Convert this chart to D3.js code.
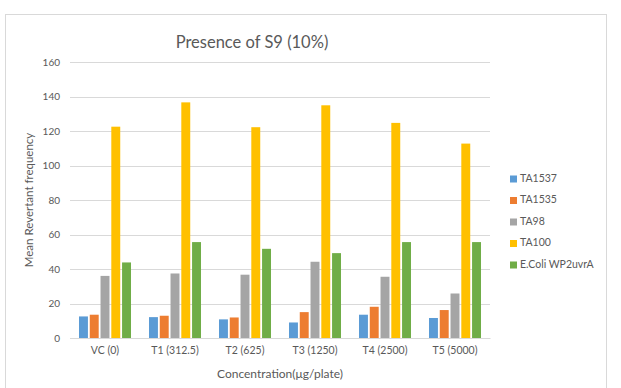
<!DOCTYPE html>
<html>
<head>
<meta charset="utf-8">
<script src="https://cdn.jsdelivr.net/npm/d3@7"></script>
<style>
  body { margin: 0; background: #fff; }
  svg text { font-family: Lato, "Open Sans", sans-serif; fill: #595959; }
</style>
</head>
<body>
<svg id="chart" width="621" height="388"></svg>
<script>
// data
const categories = ['VC (0)', 'T1 (312.5)', 'T2 (625)', 'T3 (1250)', 'T4 (2500)', 'T5 (5000)'];
const seriesNames = ['TA1537', 'TA1535', 'TA98', 'TA100', 'E.Coli WP2uvrA'];
const ta1537 = [12.5, 12.1, 10.8, 9.0, 13.5, 11.6];
const ta1535 = [13.5, 12.9, 11.9, 15.0, 18.1, 16.2];
const ta98 = [36.0, 37.4, 36.7, 44.2, 35.5, 25.8];
const ta100 = [122.5, 136.6, 122.2, 134.9, 124.7, 112.7];
const ecoli = [43.8, 55.6, 51.7, 49.2, 55.6, 55.6];
const yTicks = [0, 20, 40, 60, 80, 100, 120, 140, 160];
const colors = ['#5B9BD5', '#ED7D31', '#A5A5A5', '#FFC000', '#70AD47'];

const allSeries = [ta1537, ta1535, ta98, ta100, ecoli];

let svg = d3.select('#chart');

// outer chart frame
svg.append('rect')
  .attr('x', 5.5).attr('y', 14.5)
  .attr('width', 601).attr('height', 400)
  .attr('fill', 'none').attr('stroke', '#d9d9d9');

let plot = {left: 70, right: 490, top: 62, bottom: 338};

let y = d3.scaleLinear().domain([0, 160]).range([plot.bottom, plot.top]);
let x0 = d3.scaleBand().domain(categories).range([plot.left, plot.right])
  .paddingInner(0.257).paddingOuter(0.1285);
let x1 = d3.scaleBand().domain(seriesNames).range([0, x0.bandwidth()]).paddingInner(0.17);

// gridlines
svg.append('g')
  .selectAll('line')
  .data(yTicks)
  .enter().append('line')
  .attr('x1', plot.left).attr('x2', plot.right)
  .attr('y1', d => Math.round(y(d)) + 0.5).attr('y2', d => Math.round(y(d)) + 0.5)
  .attr('stroke', '#d9d9d9').attr('stroke-width', 1);

// y axis labels
let yAxis = svg.append('g')
  .attr('transform', 'translate(' + (plot.left - 10) + ',0)')
  .call(d3.axisLeft(y).tickValues(yTicks).tickSize(0).tickPadding(0));
yAxis.select('.domain').remove();
yAxis.selectAll('text').attr('font-size', 10).style('fill', '#595959')
  .style('font-family', 'Lato, sans-serif');

// bars
let table = categories.map((c, i) => ({cat: c, values: allSeries.map((s, j) => ({name: seriesNames[j], value: s[i], color: colors[j]}))}));

let groups = svg.append('g').selectAll('g')
  .data(table)
  .enter().append('g')
  .attr('transform', d => 'translate(' + x0(d.cat) + ',0)');

groups.selectAll('rect')
  .data(d => d.values)
  .enter().append('rect')
  .attr('x', d => x1(d.name))
  .attr('width', x1.bandwidth())
  .attr('y', d => y(d.value))
  .attr('height', d => y(0) - y(d.value))
  .attr('fill', d => d.color);

// x axis
let xAxis = svg.append('g')
  .attr('transform', 'translate(0,' + plot.bottom + ')')
  .call(d3.axisBottom(x0).tickSize(0).tickPadding(9));
xAxis.select('.domain').attr('stroke', '#d9d9d9');
xAxis.selectAll('text').attr('font-size', 10.5).style('fill', '#595959')
  .style('font-family', 'Lato, sans-serif');

// titles
svg.append('text')
  .attr('x', 252).attr('y', 48)
  .attr('text-anchor', 'middle')
  .attr('font-size', 16.5)
  .text('Presence of S9 (10%)');

svg.append('text')
  .attr('x', 280).attr('y', 378)
  .attr('text-anchor', 'middle')
  .attr('font-size', 12)
  .text('Concentration(μg/plate)');

svg.append('text')
  .attr('transform', 'translate(33,' + ((plot.top + plot.bottom) / 2) + ') rotate(-90)')
  .attr('text-anchor', 'middle')
  .attr('font-size', 11.5)
  .text('Mean Revertant frequency');

// legend
let legend = svg.append('g').selectAll('g')
  .data(seriesNames)
  .enter().append('g')
  .attr('transform', (d, i) => 'translate(510,' + (179 + i * 21.5) + ')');

legend.append('rect')
  .attr('x', 0).attr('y', -3.5)
  .attr('width', 7).attr('height', 7)
  .attr('fill', (d, i) => colors[i]);

legend.append('text')
  .attr('x', 10).attr('y', 0)
  .attr('dominant-baseline', 'middle')
  .attr('font-size', 10.5)
  .text(d => d);
</script>
</body>
</html>
